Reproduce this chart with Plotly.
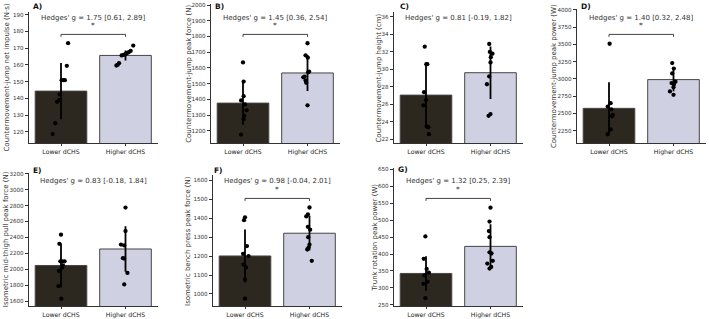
import plotly.graph_objects as go

W, H = 709, 319

# ---------------- data ----------------
categories = ["Lower dCHS", "Higher dCHS"]

a_low = [172.9, 159.4, 150.8, 150.8, 150.8, 142.3, 138.9, 137.9, 125.1, 118.6]
a_low_jit = [0.11, 0.09, 0.01, 0.04, 0.06, -0.02, -0.03, -0.06, -0.09, -0.13]
a_high = [171.5, 168.3, 167.5, 166.9, 166.3, 165.9, 165.6, 161.0, 160.0, 159.6]
a_high_jit = [0.12, 0.08, 0.05, 0.02, 0.0, -0.03, -0.06, -0.10, -0.12, -0.14]
a_mean = [144.3, 165.6]
a_sd = [16.8, 3.0]

b_low = [1635, 1513, 1420, 1393, 1368, 1330, 1295, 1274, 1175]
b_low_jit = [0.0, 0.01, 0.01, -0.03, 0.03, 0.055, 0.02, 0.01, -0.03]
b_high = [1757, 1680, 1665, 1577, 1572, 1545, 1540, 1520, 1505, 1362]
b_high_jit = [0.0, -0.03, 0.005, 0.025, 0.01, -0.045, -0.065, -0.03, -0.02, 0.0]
b_mean = [1376, 1568]
b_sd = [137, 115]

c_low = [32.6, 30.6, 30.6, 27.4, 26.5, 25.9, 23.5, 23.4, 22.6]
c_low_jit = [-0.02, 0.005, 0.02, -0.03, 0.0, -0.04, 0.01, 0.035, 0.045]
c_high = [32.9, 32.0, 31.8, 31.4, 30.8, 29.2, 28.3, 24.9, 24.7]
c_high_jit = [-0.02, -0.01, 0.03, 0.005, 0.0, -0.02, -0.055, 0.0, -0.03]
c_mean = [27.06, 29.62]
c_sd = [3.65, 3.0]

d_low = [3510, 2650, 2600, 2560, 2480, 2460, 2270, 2200]
d_low_jit = [0.01, 0.025, -0.02, 0.035, 0.06, 0.045, 0.025, -0.02]
d_high = [3230, 3150, 3080, 2960, 2940, 2920, 2880, 2820, 2770]
d_high_jit = [-0.02, 0.005, -0.02, 0.03, -0.03, 0.005, 0.0, -0.055, 0.0]
d_mean = [2575, 2991]
d_sd = [376, 167]

e_low = [2435, 2320, 2100, 2100, 2100, 2050, 2020, 1980, 1790, 1630]
e_low_jit = [0.0, -0.025, -0.01, 0.02, 0.055, 0.03, 0.015, -0.03, -0.04, 0.005]
e_high = [2775, 2480, 2310, 2300, 2140, 2135, 1955, 1810]
e_high_jit = [0.0, 0.0, -0.07, -0.02, -0.04, -0.02, 0.03, -0.02]
e_mean = [2048, 2255]
e_sd = [276, 286]

f_low = [1405, 1390, 1253, 1212, 1200, 1155, 1140, 1075, 975]
f_low_jit = [0.0, -0.015, 0.03, -0.03, 0.055, -0.025, 0.015, 0.0, 0.0]
f_high = [1457, 1420, 1410, 1355, 1340, 1300, 1260, 1245, 1235, 1175]
f_high_jit = [0.0, -0.025, -0.05, -0.025, 0.01, -0.02, 0.0, -0.015, -0.035, 0.035]
f_mean = [1200.7, 1321]
f_sd = [140, 92]

g_low = [452, 386, 356, 345, 337, 318, 312, 270]
g_low_jit = [-0.01, -0.035, 0.01, 0.045, -0.025, 0.025, -0.04, -0.01]
g_high = [537, 496, 468, 450, 405, 402, 380, 372, 362, 357]
g_high_jit = [0.0, -0.015, -0.025, -0.015, -0.015, 0.015, 0.035, -0.05, 0.01, -0.015]
g_mean = [342.7, 422.7]
g_sd = [51, 65]

y_titles = [
    "Countermovement-jump net impulse (N·s)",
    "Countermovement-jump peak force (N)",
    "Countermovement-jump height (cm)",
    "Countermovement-jump peak power (W)",
    "Isometric mid-thigh pull peak force (N)",
    "Isometric bench press peak force (N)",
    "Trunk rotation peak power (W)",
]
letters = ["A)", "B)", "C)", "D)", "E)", "F)", "G)"]
hedges = [
    "Hedges' g = 1.75 [0.61, 2.89]",
    "Hedges' g = 1.45 [0.36, 2.54]",
    "Hedges' g = 0.81 [-0.19, 1.82]",
    "Hedges' g = 1.40 [0.32, 2.48]",
    "Hedges' g = 0.83 [-0.18, 1.84]",
    "Hedges' g = 0.98 [-0.04, 2.01]",
    "Hedges' g = 1.32 [0.25, 2.39]",
]
significant = [True, True, False, True, False, True, True]
tick_values = [
    [120, 130, 140, 150, 160, 170, 180, 190],
    [1200, 1300, 1400, 1500, 1600, 1700, 1800, 1900, 2000],
    [22, 24, 26, 28, 30, 32, 34, 36],
    [2250, 2500, 2750, 3000, 3250, 3500, 3750, 4000],
    [1600, 1800, 2000, 2200, 2400, 2600, 2800, 3000, 3200],
    [1000, 1100, 1200, 1300, 1400, 1500, 1600],
    [250, 300, 350, 400, 450, 500, 550, 600, 650],
]
y_ranges = [
    [113.2, 191.6],
    [1121, 2004],
    [21.57, 36.57],
    [2071, 4014],
    [1534, 3211],
    [934, 1627],
    [245.3, 653],
]

panels = [
    (a_low, a_low_jit, a_high, a_high_jit, a_mean, a_sd),
    (b_low, b_low_jit, b_high, b_high_jit, b_mean, b_sd),
    (c_low, c_low_jit, c_high, c_high_jit, c_mean, c_sd),
    (d_low, d_low_jit, d_high, d_high_jit, d_mean, d_sd),
    (e_low, e_low_jit, e_high, e_high_jit, e_mean, e_sd),
    (f_low, f_low_jit, f_high, f_high_jit, f_mean, f_sd),
    (g_low, g_low_jit, g_high, g_high_jit, g_mean, g_sd),
]

# ---------------- layout geometry (pixels) ----------------
spine_x = [30, 212, 395, 578, 30, 214, 395]
bottom_px = [142.5, 142.5, 142.5, 142.5, 307.3, 307.3, 307.3]
top_px = [10, 2.5, 10, 7, 172.5, 175, 168]
ytitle_x = [7, 189, 379, 554, 5.5, 188, 375]
letter_x = [31, 213, 398, 579, 31, 212, 396]
letter_y = [5, 5, 5, 5, 170, 170, 169.5]
row_top_text = [16, 16, 16, 16, 181, 181, 181]
row_star = [23.5, 23.5, 23.5, 23.5, 189, 189, 189]
row_bracket = [32.7, 32.7, 32.7, 32.7, 198.3, 198.3, 198.3]

FONT = "DejaVu Sans"
bar_colors = ["#2c2820", "#d0d0e3"]
edge_color = "#454545"
axis_color = "#333333"


def fx(px):
    return px / W


def fy(py):
    return 1 - py / H


fig = go.Figure()
layout = dict(
    width=W, height=H, margin=dict(l=0, r=0, t=0, b=0),
    paper_bgcolor="white", plot_bgcolor="white", showlegend=False,
    font=dict(family=FONT, color="#222222"),
)
annotations = []
shapes = []

for i, (lo, lo_j, hi, hi_j, mean, sd) in enumerate(panels):
    n = i + 1
    xa = "x" if n == 1 else f"x{n}"
    ya = "y" if n == 1 else f"y{n}"
    xkey = "xaxis" if n == 1 else f"xaxis{n}"
    ykey = "yaxis" if n == 1 else f"yaxis{n}"

    fig.add_trace(go.Bar(
        x=[0, 1], y=mean, width=0.8, xaxis=xa, yaxis=ya,
        marker=dict(color=bar_colors, line=dict(color=edge_color, width=1)),
        error_y=dict(type="data", array=sd, visible=True, color="black",
                     thickness=1.8, width=0),
        hoverinfo="skip",
    ))
    fig.add_trace(go.Scatter(
        x=[0 + j for j in lo_j] + [1 + j for j in hi_j], y=lo + hi,
        mode="markers", xaxis=xa, yaxis=ya,
        marker=dict(color="black", size=4.3),
    ))

    s = spine_x[i]
    x0, x1 = s - 1.25, s + 127.75
    layout[xkey] = dict(
        domain=[fx(x0), fx(x1)], range=[-0.5, 1.5], anchor=ya,
        tickvals=[0, 1], ticktext=categories, showline=True,
        linecolor=axis_color, linewidth=1, ticks="outside", ticklen=2,
        tickcolor=axis_color, showgrid=False, zeroline=False,
        tickfont=dict(size=6.2, family=FONT, color="#222222"), fixedrange=True,
    )
    layout[ykey] = dict(
        domain=[fy(bottom_px[i]), fy(top_px[i])], range=y_ranges[i], anchor=xa,
        tickvals=tick_values[i], showline=True, linecolor=axis_color,
        linewidth=1, ticks="outside", ticklen=3, tickcolor=axis_color,
        showgrid=False, zeroline=False,
        tickfont=dict(size=5.6, family=FONT, color="#333333"), fixedrange=True,
    )

    ymid = (bottom_px[i] + top_px[i]) / 2
    annotations.append(dict(
        text=y_titles[i], xref="paper", yref="paper", x=fx(ytitle_x[i]),
        y=fy(ymid), xanchor="center", yanchor="middle", textangle=-90,
        showarrow=False, font=dict(size=7, family=FONT, color="#333333"),
    ))
    annotations.append(dict(
        text="<b>" + letters[i] + "</b>", xref="paper", yref="paper",
        x=fx(letter_x[i]), y=fy(letter_y[i]), xanchor="left", yanchor="middle",
        showarrow=False, font=dict(size=7.5, family=FONT, color="#111111"),
    ))
    annotations.append(dict(
        text=hedges[i], xref="paper", yref="paper", x=fx((x0 + x1) / 2),
        y=fy(row_top_text[i]), xanchor="center", yanchor="middle",
        showarrow=False, font=dict(size=7, family=FONT, color="#333333"),
    ))
    if significant[i]:
        annotations.append(dict(
            text="*", xref=xa, yref="paper", x=0.5, y=fy(row_star[i]),
            xanchor="center", yanchor="middle", showarrow=False,
            font=dict(size=7.5, family=FONT, color="#333333"),
        ))
        yb = fy(row_bracket[i])
        yt = fy(row_bracket[i] + 2.5)
        for (ax0, ay0, ax1, ay1) in [(0, yb, 1, yb), (0, yb, 0, yt), (1, yb, 1, yt)]:
            shapes.append(dict(
                type="line", xref=xa, yref="paper", x0=ax0, y0=ay0, x1=ax1,
                y1=ay1, line=dict(color="#444444", width=1),
            ))

layout["annotations"] = annotations
layout["shapes"] = shapes
fig.update_layout(**layout)
fig.write_html("out.html")
